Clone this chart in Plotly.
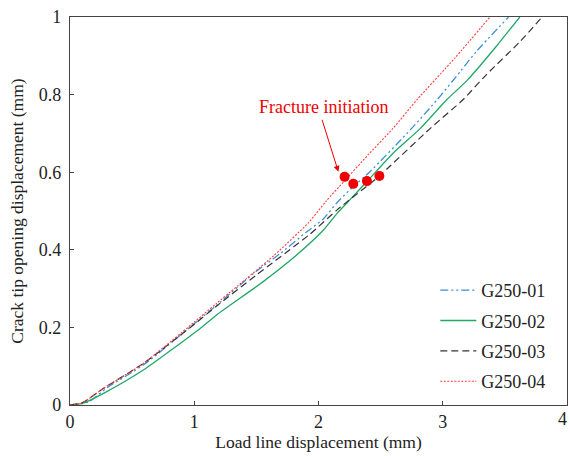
import plotly.graph_objects as go

# Load line displacement (mm) vs crack tip opening displacement (mm)
g01_x = [0, 0.15, 0.30, 0.59, 0.99, 1.18, 1.50, 1.69, 1.90, 2.04, 2.15, 2.28, 2.41, 2.75, 2.95, 3.14, 3.27, 3.53]
g01_y = [0, 0.008, 0.045, 0.103, 0.207, 0.257, 0.345, 0.390, 0.445, 0.480, 0.522, 0.563, 0.600, 0.713, 0.785, 0.859, 0.911, 1.0]

g02_x = [0, 0.10, 0.27, 0.59, 1.05, 1.18, 1.555, 1.80, 2.04, 2.15, 2.25, 2.39, 2.60, 2.82, 3.03, 3.20, 3.43, 3.62]
g02_y = [0, 0.004, 0.030, 0.090, 0.198, 0.232, 0.318, 0.380, 0.451, 0.494, 0.528, 0.576, 0.649, 0.713, 0.786, 0.838, 0.924, 1.0]

g03_x = [0, 0.10, 0.27, 0.59, 1.00, 1.18, 1.50, 1.93, 2.15, 2.49, 2.57, 2.90, 3.16, 3.35, 3.62, 3.80]
g03_y = [0, 0.006, 0.043, 0.107, 0.208, 0.255, 0.335, 0.440, 0.503, 0.590, 0.614, 0.713, 0.786, 0.851, 0.936, 1.0]

g04_x = [0, 0.10, 0.27, 0.59, 0.99, 1.18, 1.64, 1.92, 2.06, 2.21, 2.40, 2.60, 2.79, 3.10, 3.38]
g04_y = [0, 0.006, 0.043, 0.107, 0.211, 0.262, 0.385, 0.470, 0.525, 0.578, 0.645, 0.713, 0.786, 0.895, 1.0]

# Fracture initiation points (one per specimen)
init_x = [2.21, 2.28, 2.39, 2.49]
init_y = [0.588, 0.570, 0.577, 0.590]

x_ticks = [0, 1, 2, 3, 4]
y_ticks = [0, 0.2, 0.4, 0.6, 0.8, 1]

serif = "Liberation Serif, Times New Roman, serif"

series = [
    ("G250-01", g01_x, g01_y, "#3d8fd9", "8px,3px,2px,3px,2px,3px", 1.3),
    ("G250-02", g02_x, g02_y, "#1fa866", "solid", 1.3),
    ("G250-03", g03_x, g03_y, "#333333", "7px,4px", 1.2),
    ("G250-04", g04_x, g04_y, "#ff3b3b", "2px,1.5px", 1.1),
]

fig = go.Figure()
for i, (name, xs, ys, color, dash, width) in enumerate(series):
    fig.add_trace(go.Scatter(
        x=xs, y=ys, mode="lines", name=name, legendgroup=f"g{i}",
        line=dict(color=color, dash=dash, width=width, shape="spline", smoothing=0.6),
    ))

fig.add_trace(go.Scatter(
    x=init_x, y=init_y, mode="markers", showlegend=False,
    marker=dict(color="#ee0000", size=10),
))

fig.add_annotation(
    x=2.16, y=0.601, ax=2.025, ay=0.739, xref="x", yref="y", axref="x", ayref="y",
    text="", showarrow=True, arrowhead=2, arrowsize=1.2, arrowwidth=1,
    arrowcolor="#ee0000",
)
fig.add_annotation(
    x=2.043, y=0.768, xref="x", yref="y", text="Fracture initiation",
    showarrow=False, font=dict(family=serif, size=18, color="#ee0000"),
)

tick_font = dict(family=serif, size=18, color="#222222")

# last x tick label, right-aligned so it stays inside the canvas
fig.add_annotation(
    x=x_ticks[-1], y=0, xref="x", yref="paper", xanchor="right", yanchor="top",
    xshift=2, yshift=-2, text=str(x_ticks[-1]), showarrow=False, font=tick_font,
)

axis_common = dict(
    showgrid=False, zeroline=False, showline=True, linecolor="#444444",
    linewidth=1.2, mirror=True, ticks="inside", ticklen=4, tickcolor="#444444",
    tickfont=tick_font,
)

fig.update_xaxes(
    range=[0, 4], tickvals=x_ticks[:-1], ticktext=[str(v) for v in x_ticks[:-1]],
    title=dict(text="Load line displacement (mm)", standoff=4,
               font=dict(family=serif, size=17.5, color="#222222")),
    **axis_common,
)
fig.update_yaxes(
    range=[0, 1], tickvals=y_ticks, ticktext=["0", "0.2", "0.4", "0.6", "0.8", "1"],
    ticklabelstandoff=4,
    title=dict(text="Crack tip opening displacement (mm)", standoff=10,
               font=dict(family=serif, size=17.5, color="#222222")),
    **axis_common,
)
# inside tick mark at x = 4 (label is drawn separately above)
fig.update_xaxes(minor=dict(tickvals=[x_ticks[-1]], ticks="inside", ticklen=4,
                            tickcolor="#444444"))

fig.update_layout(
    width=570, height=456,
    margin=dict(l=70, r=3, t=17, b=51),
    paper_bgcolor="white", plot_bgcolor="white",
    legend=dict(
        x=0.735, y=0.343, xanchor="left", yanchor="top",
        bgcolor="rgba(0,0,0,0)", tracegroupgap=4, itemwidth=36,
        font=dict(family=serif, size=18, color="#222222"),
    ),
)

fig.write_html("out.html")
